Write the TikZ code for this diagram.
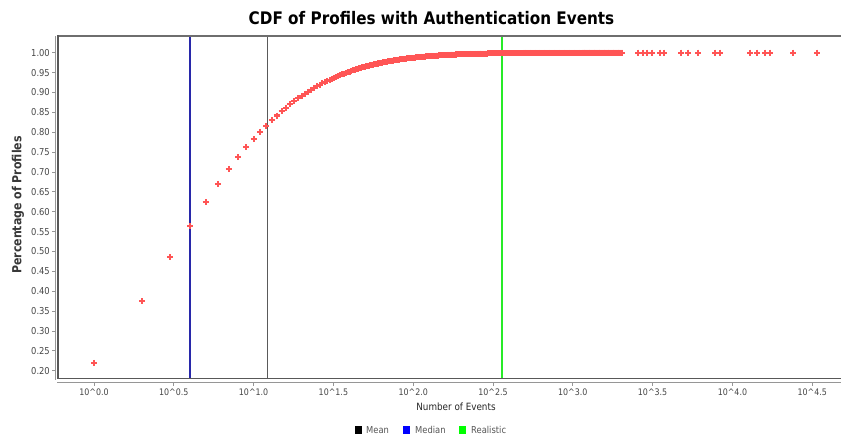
\documentclass[tikz,border=0pt]{standalone}
\usepackage{fontspec}
\setmainfont{DejaVu Sans}[FakeStretch=0.88]
\definecolor{pointred}{RGB}{255,85,85}
\definecolor{framegray}{RGB}{110,110,110}
\definecolor{axisgray}{RGB}{150,150,150}
\definecolor{ticktext}{RGB}{70,70,70}
\definecolor{medianblue}{RGB}{40,40,170}
\definecolor{meangray}{RGB}{90,90,90}
\definecolor{realgreen}{RGB}{40,235,40}
\definecolor{legendtext}{RGB}{85,85,85}
\tikzset{
  ticklabel/.style={font=\fontsize{9.5}{11}\selectfont, text=ticktext, inner sep=0pt},
  xticklabel/.style={font=\fontsize{9}{11}\selectfont, text=ticktext, inner sep=0pt},
  datapt/.style={draw=pointred, line width=2.1pt},
  refline/.style={line width=1.4pt},
  legbox/.style={minimum size=7.5pt, inner sep=0pt},
  legtext/.style={font=\fontsize{9.5}{11}\selectfont, text=legendtext, inner sep=0pt, anchor=west},
}
% marker: a small plus sign centred on (#1,#2)
\newcommand\plusmark[2]{\draw[datapt] (#1-3,#2) -- (#1+3,#2) (#1,#2-3) -- (#1,#2+3);}
\begin{document}
\begin{tikzpicture}[x=1pt,y=-1pt]
\useasboundingbox (0,0) rectangle (841,437);
\fill[white] (0,0) rectangle (841,437);

% title
\node[font=\bfseries\fontsize{17.3}{20}\selectfont, inner sep=0pt] (title) at (431.5,18) {CDF of Profiles with Authentication Events};

% axis titles
\node[font=\bfseries\fontsize{12.5}{14}\selectfont, text=ticktext!80!black, rotate=90, inner sep=0pt] (ylab) at (18,205) {Percentage of Profiles};
\node[font=\fontsize{10}{12}\selectfont, text=black!85, inner sep=0pt] (xlab) at (456,407) {Number of Events};

% y ticks and labels
\foreach \v [count=\i from 0] in {0.20,0.25,0.30,0.35,0.40,0.45,0.50,0.55,0.60,0.65,0.70,0.75,0.80,0.85,0.90,0.95,1.00} {
  \pgfmathsetmacro\yy{370.7-19.875*\i}
  \draw[axisgray, line width=0.8pt] (52,\yy) -- (55,\yy);
  \node[ticklabel, anchor=east] (yt\i) at (50,\yy) {\v};
}
\draw[axisgray, line width=1pt] (55,36) -- (55,380);

% x ticks and labels
\foreach \t [count=\i from 0] in {0.0,0.5,1.0,1.5,2.0,2.5,3.0,3.5,4.0,4.5} {
  \pgfmathsetmacro\xx{94+79.8*\i}
  \draw[axisgray, line width=0.8pt] (\xx,382) -- (\xx,386);
  \node[xticklabel] (xt\i) at (\xx,392) {10\^{}\t};
}
\draw[axisgray, line width=1pt] (57,382) -- (841,382);

% reference lines: median, mean, realistic
\draw[refline, medianblue] (190,36) -- (190,378);
\draw[meangray, line width=0.8pt] (267,36) -- (267,378);
\draw[refline, realgreen] (502,36) -- (502,378);

% CDF points at small integer counts
\foreach \n in {1,...,60} {
  \pgfmathsetmacro\L{ln(\n)}
  \pgfmathsetmacro\xx{94+69.31*\L}
  \pgfmathsetmacro\yy{52.7+310.05*exp(-0.217*\L-0.147*\L*\L)}
  \plusmark{\xx}{\yy}
}
% dense part of the curve
\foreach \L in {4.10,4.112,...,7.62} {
  \pgfmathsetmacro\xx{94+69.31*\L}
  \pgfmathsetmacro\yy{52.7+310.05*exp(-0.217*\L-0.147*\L*\L)}
  \plusmark{\xx}{\yy}
}
% sparse tail
\foreach \xx in {638,643,647,652,660,664,681,688,698,715,720,750,757,765,770,793,817} {
  \plusmark{\xx}{52.7}
}

% plot frame
\draw[framegray, line width=2.2pt] (57.5,36) -- (841,36);
\draw[framegray!80!black, line width=1.4pt] (58,35) -- (58,378.5) -- (841,378.5);

% legend
\node[legbox, fill=black] (kmean) at (358.5,430) {};
\node[legtext] (tmean) at (366,430) {Mean};
\node[legbox, fill=blue] (kmed) at (406.5,430) {};
\node[legtext] (tmed) at (415,430) {Median};
\node[legbox, fill=green] (kreal) at (462.5,430) {};
\node[legtext] (treal) at (471,430) {Realistic};
\end{tikzpicture}
\end{document}
